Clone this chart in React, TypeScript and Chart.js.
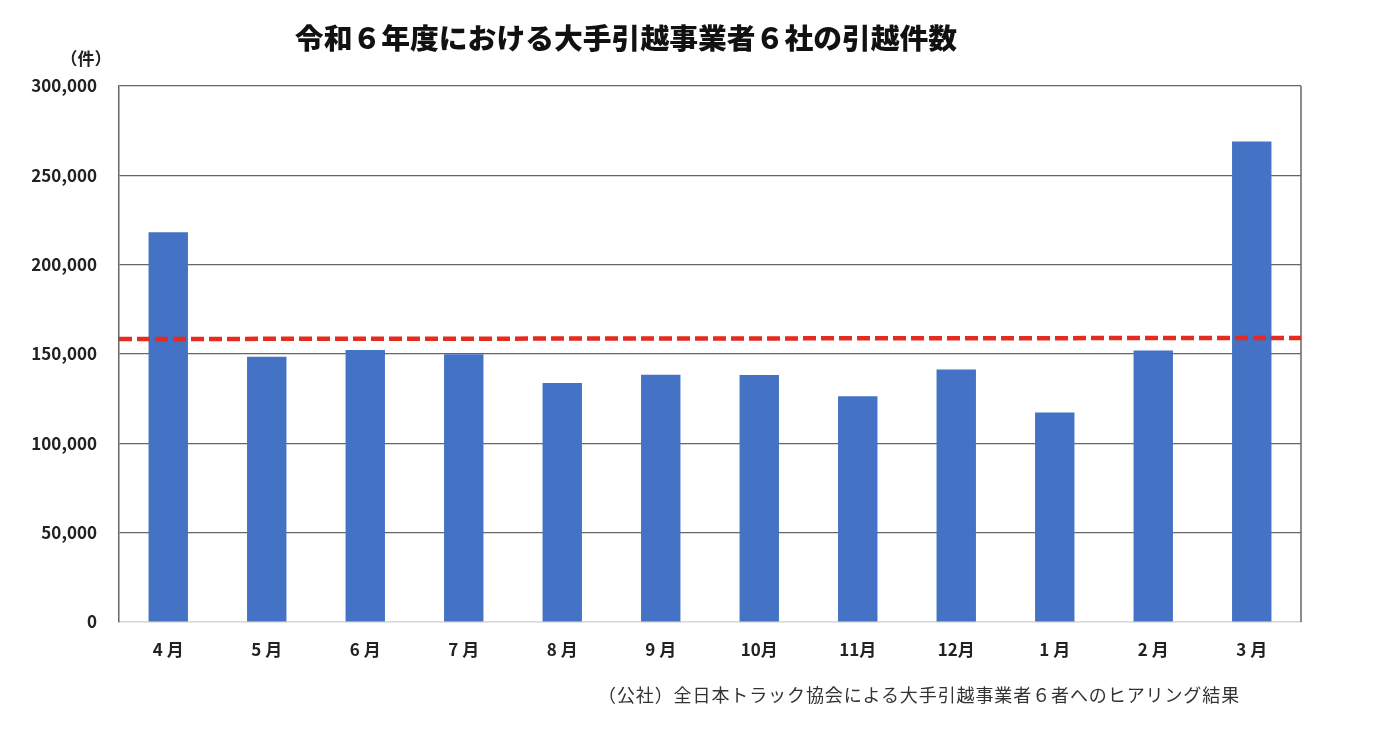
import React, { useEffect, useRef } from "react";
import { Chart, registerables, Plugin } from "chart.js";

Chart.register(...registerables);

const months = ["4 月", "5 月", "6 月", "7 月", "8 月", "9 月", "10月", "11月", "12月", "1 月", "2 月", "3 月"];
const moves = [218100, 148500, 152200, 149800, 133800, 138400, 138200, 126400, 141300, 117200, 152000, 269000];
// dashed reference line, value at left edge / right edge of the plot
const refLine = [158400, 159000];
const yTicks = [0, 50000, 100000, 150000, 200000, 250000, 300000];

const FONT = "'Noto Sans CJK JP', 'Noto Sans', sans-serif";

const overlayPlugin: Plugin<"bar"> = {
  id: "overlay",
  afterDatasetsDraw(chart) {
    const { ctx, chartArea, scales } = chart;
    const y = scales.y;
    ctx.save();
    // right frame line
    ctx.strokeStyle = "#666";
    ctx.lineWidth = 1.5;
    ctx.beginPath();
    ctx.moveTo(chartArea.right, chartArea.top);
    ctx.lineTo(chartArea.right, chartArea.bottom);
    ctx.stroke();
    // red dashed line
    ctx.strokeStyle = "#E52A1F";
    ctx.lineWidth = 4.5;
    ctx.setLineDash([13, 5]);
    ctx.beginPath();
    ctx.moveTo(chartArea.left, y.getPixelForValue(refLine[0]));
    ctx.lineTo(chartArea.right, y.getPixelForValue(refLine[1]));
    ctx.stroke();
    ctx.restore();
  },
};

const MovingChart: React.FC = () => {
  const canvasRef = useRef<HTMLCanvasElement | null>(null);

  useEffect(() => {
    const ctx = canvasRef.current?.getContext("2d");
    if (!ctx) return;
    const chart = new Chart(ctx, {
      type: "bar",
      data: {
        labels: months,
        datasets: [
          {
            data: moves,
            backgroundColor: "#4472C4",
            borderWidth: 0,
            barPercentage: 0.4,
            categoryPercentage: 1,
          },
        ],
      },
      options: {
        animation: false,
        responsive: true,
        maintainAspectRatio: false,
        layout: { padding: { top: 78, right: 70, bottom: 51, left: 0 } },
        plugins: {
          legend: { display: false },
          title: { display: false },
          tooltip: { enabled: false },
        },
        scales: {
          x: {
            grid: { display: false, drawTicks: false },
            border: { color: "#d9d9d9", width: 1.5 },
            ticks: {
              color: "#222",
              padding: 17,
              font: { family: FONT, size: 17, weight: "bold" },
            },
            afterFit(scale) {
              scale.height = 60;
            },
          },
          y: {
            min: 0,
            max: 300000,
            afterBuildTicks(scale) {
              scale.ticks = yTicks.map((v) => ({ value: v }));
            },
            grid: {
              drawTicks: false,
              lineWidth: 1.2,
              color: (c) => (c.tick && c.tick.value === 0 ? "#d9d9d9" : "#666"),
            },
            border: { color: "#666", width: 1.5 },
            ticks: {
              color: "#222",
              padding: 22,
              font: { family: FONT, size: 17, weight: "bold" },
              callback: (v) => Number(v).toLocaleString("en-US"),
            },
            afterFit(scale) {
              scale.width = 111;
            },
          },
        },
      },
      plugins: [overlayPlugin],
    });
    return () => {
      chart.destroy();
    };
  }, []);

  return (
    <div style={{ position: "relative", width: "1363px", height: "725px", fontFamily: FONT }}>
      <canvas ref={canvasRef} />
      <div
        style={{
          position: "absolute",
          left: "618px",
          top: "15px",
          transform: "translateX(-50%)",
          fontSize: "28.8px",
          lineHeight: 1,
          fontWeight: 900,
          color: "#111",
          whiteSpace: "nowrap",
        }}
      >
        令和６年度における大手引越事業者６社の引越件数
      </div>
      <div
        style={{
          position: "absolute",
          left: "78px",
          top: "41px",
          transform: "translateX(-50%)",
          fontSize: "17px",
          lineHeight: 1,
          fontWeight: 700,
          color: "#222",
          whiteSpace: "nowrap",
        }}
      >
        （件）
      </div>
      <div
        style={{
          position: "absolute",
          left: "590px",
          top: "677px",
          fontSize: "18px",
          lineHeight: 1,
          letterSpacing: "0.9px",
          fontWeight: 400,
          color: "#333",
          whiteSpace: "nowrap",
        }}
      >
        （公社）全日本トラック協会による大手引越事業者６者へのヒアリング結果
      </div>
    </div>
  );
};

export default function App() {
  return <MovingChart />;
}
